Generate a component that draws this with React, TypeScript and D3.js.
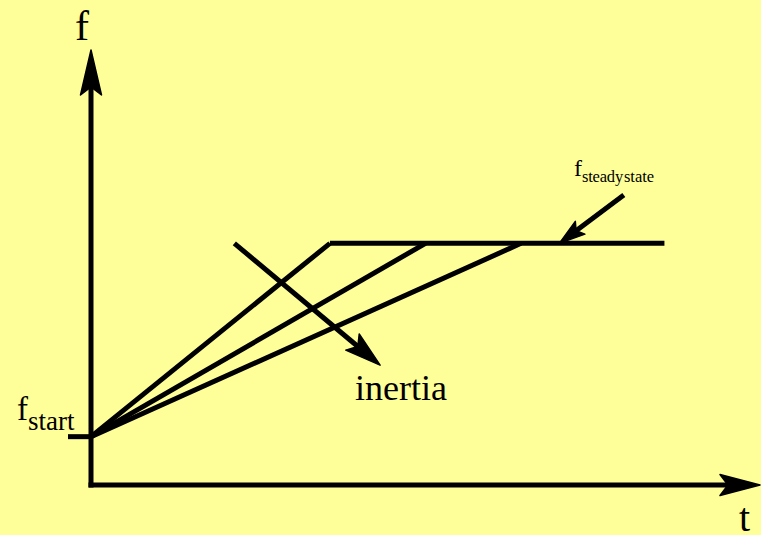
import React from "react";
import * as d3 from "d3";

// Data (abstract units: t along time axis, f along frequency axis)
const fStart = 1;
const fSteady = 5;
const rampEnds = [1.0, 1.4, 1.8]; // t where each ramp reaches steady state
const steadyEndT = 2.4;
const axisMaxT = 2.8;
const axisMaxF = 9;
const inertiaArrow = [[0.6, 5.0], [1.21, 2.48]];
const steadyArrow = [[2.23, 6.0], [1.96, 5.0]];

const W = 761;
const H = 535;
const BG = "#FFFF99";
const FONT = "'Liberation Serif', 'Times New Roman', serif";

const x = d3.scaleLinear().domain([0, axisMaxT]).range([91, 760]);
const y = d3.scaleLinear().domain([0, axisMaxF]).range([485, 50]);

function Arrow({ x1, y1, x2, y2, len, half, notch, sw }: any) {
  const dx = x2 - x1, dy = y2 - y1;
  const L = Math.hypot(dx, dy);
  const ux = dx / L, uy = dy / L;
  const px = -uy, py = ux;
  const bx = x2 - ux * len, by = y2 - uy * len;
  const nx = x2 - ux * (len - notch), ny = y2 - uy * (len - notch);
  const pts = [
    [x2, y2],
    [bx + px * half, by + py * half],
    [nx, ny],
    [bx - px * half, by - py * half],
  ];
  return (
    <g>
      <line x1={x1} y1={y1} x2={nx} y2={ny} stroke="#000" strokeWidth={sw} />
      <polygon points={pts.map((p) => p.join(",")).join(" ")} fill="#000" stroke="#000" strokeWidth={1.5} strokeLinejoin="round" />
    </g>
  );
}

export default function App() {
  const line = d3.line<number[]>().x((d) => x(d[0])).y((d) => y(d[1]));
  const sw = 5;
  return (
    <div style={{ position: "fixed", left: 0, top: 0 }}>
      <svg width={W} height={H} style={{ display: "block" }}>
        <rect x={0} y={0} width={W} height={H} fill={BG} />
        {/* axes */}
        <Arrow x1={x(0)} y1={y(0) + 2.5} x2={x(0)} y2={y(axisMaxF)} len={45} half={10.5} notch={8} sw={sw} />
        <Arrow x1={x(0) - 2.5} y1={y(0)} x2={x(axisMaxT)} y2={y(0)} len={40} half={10.5} notch={8} sw={sw} />
        {/* f_start tick */}
        <line x1={68} y1={y(fStart)} x2={x(0)} y2={y(fStart)} stroke="#000" strokeWidth={sw} />
        {/* ramps */}
        {rampEnds.map((t, i) => (
          <path key={i} d={line([[0, fStart], [t, fSteady]]) || ""} fill="none" stroke="#000" strokeWidth={sw} />
        ))}
        {/* steady state line */}
        <path d={line([[rampEnds[0], fSteady], [steadyEndT, fSteady]]) || ""} fill="none" stroke="#000" strokeWidth={sw} />
        {/* inertia arrow */}
        <Arrow x1={x(inertiaArrow[0][0])} y1={y(inertiaArrow[0][1])} x2={x(inertiaArrow[1][0])} y2={y(inertiaArrow[1][1])} len={36} half={10.5} notch={7} sw={sw} />
        {/* steady state arrow */}
        <Arrow x1={x(steadyArrow[0][0])} y1={y(steadyArrow[0][1])} x2={x(steadyArrow[1][0])} y2={y(steadyArrow[1][1])} len={26} half={8} notch={5} sw={sw} />
        {/* labels */}
        <text x={75} y={40} fontFamily={FONT} fontSize={42} fill="#000">f</text>
        <text x={739} y={531} fontFamily={FONT} fontSize={40} fill="#000">t</text>
        <text x={17} y={420} fontFamily={FONT} fontSize={33} fill="#000">
          f<tspan fontSize={27} dy={10}>start</tspan>
        </text>
        <text x={574} y={176} fontFamily={FONT} fontSize={24} fill="#000">
          f<tspan fontSize={16.5} dy={6} letterSpacing={-0.2}>steady</tspan><tspan fontSize={16.5} dx={1}>state</tspan>
        </text>
        <text x={355} y={400} fontFamily={FONT} fontSize={36} fill="#000">inertia</text>
      </svg>
    </div>
  );
}
